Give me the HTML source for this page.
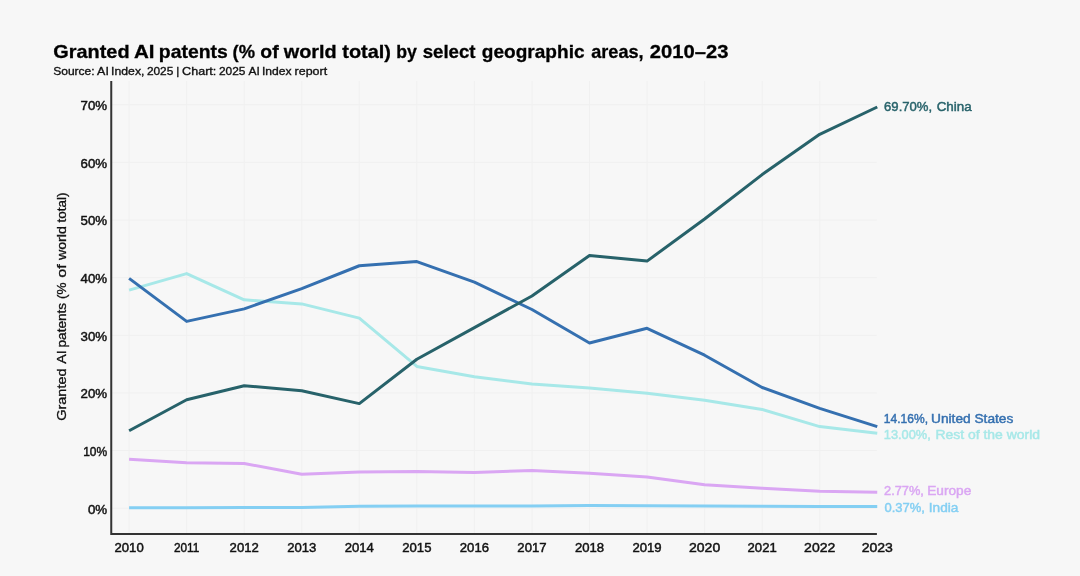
<!DOCTYPE html>
<html lang="en"><head><meta charset="utf-8"><title>Granted AI patents</title>
<style>
html,body{margin:0;padding:0;background:#f7f7f7;}
body{width:1080px;height:576px;overflow:hidden;font-family:"Liberation Sans",sans-serif;}
svg{display:block;position:absolute;left:0;top:0}
text{font-family:"Liberation Sans",sans-serif;}
.tick{font-size:12.8px;fill:#111;stroke:#111;stroke-width:0.45px;}
.lab{font-size:12.7px;stroke-width:0.45px;}
</style></head><body>
<svg width="1080" height="576" viewBox="0 0 1080 576">
<rect x="0" y="0" width="1080" height="576" fill="#f7f7f7"/>

<g stroke="#f0f0f0" stroke-width="1" fill="none">
<line x1="129.10" y1="81" x2="129.10" y2="533"/>
<line x1="186.65" y1="81" x2="186.65" y2="533"/>
<line x1="244.20" y1="81" x2="244.20" y2="533"/>
<line x1="301.75" y1="81" x2="301.75" y2="533"/>
<line x1="359.30" y1="81" x2="359.30" y2="533"/>
<line x1="416.85" y1="81" x2="416.85" y2="533"/>
<line x1="474.40" y1="81" x2="474.40" y2="533"/>
<line x1="531.95" y1="81" x2="531.95" y2="533"/>
<line x1="589.50" y1="81" x2="589.50" y2="533"/>
<line x1="647.05" y1="81" x2="647.05" y2="533"/>
<line x1="704.60" y1="81" x2="704.60" y2="533"/>
<line x1="762.15" y1="81" x2="762.15" y2="533"/>
<line x1="819.70" y1="81" x2="819.70" y2="533"/>
<line x1="111" y1="508.20" x2="876.8" y2="508.20"/>
<line x1="111" y1="450.56" x2="876.8" y2="450.56"/>
<line x1="111" y1="392.92" x2="876.8" y2="392.92"/>
<line x1="111" y1="335.28" x2="876.8" y2="335.28"/>
<line x1="111" y1="277.64" x2="876.8" y2="277.64"/>
<line x1="111" y1="220.00" x2="876.8" y2="220.00"/>
<line x1="111" y1="162.36" x2="876.8" y2="162.36"/>
<line x1="111" y1="104.72" x2="876.8" y2="104.72"/>
</g>
<polyline points="129.10,507.80 186.65,507.70 244.20,507.60 301.75,507.40 359.30,506.20 416.85,506.00 474.40,506.00 531.95,506.00 589.50,505.60 647.05,505.70 704.60,505.90 762.15,506.20 819.70,506.40 877.25,506.50" fill="none" stroke="#84cff3" stroke-width="3.0" stroke-linejoin="round" stroke-linecap="butt"/>
<polyline points="129.10,459.25 186.65,462.75 244.20,463.50 301.75,474.25 359.30,472.00 416.85,471.50 474.40,472.50 531.95,470.50 589.50,473.30 647.05,477.10 704.60,484.80 762.15,488.20 819.70,491.20 877.25,492.20" fill="none" stroke="#daa6f3" stroke-width="3.0" stroke-linejoin="round" stroke-linecap="butt"/>
<polyline points="129.10,290.10 186.65,273.60 244.20,299.80 301.75,303.90 359.30,318.10 416.85,366.40 474.40,376.80 531.95,383.90 589.50,388.00 647.05,393.30 704.60,400.30 762.15,409.40 819.70,426.60 877.25,433.30" fill="none" stroke="#a7e8e8" stroke-width="3.0" stroke-linejoin="round" stroke-linecap="butt"/>
<polyline points="129.10,278.40 186.65,321.40 244.20,308.90 301.75,288.70 359.30,265.75 416.85,261.60 474.40,282.20 531.95,309.50 589.50,343.00 647.05,328.30 704.60,355.20 762.15,387.50 819.70,408.40 877.25,426.60" fill="none" stroke="#3570b0" stroke-width="3.0" stroke-linejoin="round" stroke-linecap="butt"/>
<polyline points="129.10,430.80 186.65,399.80 244.20,385.70 301.75,390.70 359.30,403.60 416.85,359.30 474.40,327.60 531.95,296.00 589.50,255.50 647.05,261.10 704.60,219.00 762.15,174.60 819.70,134.30 877.25,107.00" fill="none" stroke="#27626a" stroke-width="3.0" stroke-linejoin="round" stroke-linecap="butt"/>
<path d="M111.25 82 V533.9 H875.9" fill="none" stroke="#333" stroke-width="2" stroke-linecap="square"/>
<text font-size="18.4" font-weight="bold" fill="#000" stroke="#000" stroke-width="0.3" y="57.5">
<tspan x="53.37" textLength="76.22" lengthAdjust="spacingAndGlyphs">Granted</tspan> <tspan x="134.02" textLength="20.57" lengthAdjust="spacingAndGlyphs">AI</tspan> <tspan x="158.87" textLength="68.95" lengthAdjust="spacingAndGlyphs">patents</tspan> <tspan x="232.56" textLength="22.39" lengthAdjust="spacingAndGlyphs">(%</tspan> <tspan x="260.38" textLength="18.28" lengthAdjust="spacingAndGlyphs">of</tspan> <tspan x="283.79" textLength="52.96" lengthAdjust="spacingAndGlyphs">world</tspan> <tspan x="342.25" textLength="48.69" lengthAdjust="spacingAndGlyphs">total)</tspan> <tspan x="396.15" textLength="20.65" lengthAdjust="spacingAndGlyphs">by</tspan> <tspan x="422.69" textLength="52.86" lengthAdjust="spacingAndGlyphs">select</tspan> <tspan x="481.88" textLength="102.65" lengthAdjust="spacingAndGlyphs">geographic</tspan> <tspan x="591.21" textLength="52.37" lengthAdjust="spacingAndGlyphs">areas,</tspan> <tspan x="649.82" textLength="78.56" lengthAdjust="spacingAndGlyphs">2010–23</tspan></text>
<text font-size="11.8" fill="#111" stroke="#111" stroke-width="0.35" y="75.1">
<tspan x="53.21" textLength="41.45" lengthAdjust="spacingAndGlyphs">Source:</tspan> <tspan x="97.12" textLength="11.76" lengthAdjust="spacingAndGlyphs">AI</tspan> <tspan x="111.11" textLength="33.34" lengthAdjust="spacingAndGlyphs">Index,</tspan> <tspan x="146.92" textLength="26.44" lengthAdjust="spacingAndGlyphs">2025</tspan> <tspan x="176.19" textLength="3.03" lengthAdjust="spacingAndGlyphs">|</tspan> <tspan x="182.14" textLength="34.17" lengthAdjust="spacingAndGlyphs">Chart:</tspan> <tspan x="218.92" textLength="26.47" lengthAdjust="spacingAndGlyphs">2025</tspan> <tspan x="248.60" textLength="11.30" lengthAdjust="spacingAndGlyphs">AI</tspan> <tspan x="261.94" textLength="29.58" lengthAdjust="spacingAndGlyphs">Index</tspan> <tspan x="294.63" textLength="32.51" lengthAdjust="spacingAndGlyphs">report</tspan></text>
<text font-size="12.8" fill="#111" stroke="#111" stroke-width="0.32" transform="translate(66.1,420.86) rotate(-90)">
<tspan x="0.00" textLength="52.46" lengthAdjust="spacingAndGlyphs">Granted</tspan> <tspan x="57.22" textLength="13.37" lengthAdjust="spacingAndGlyphs">AI</tspan> <tspan x="73.41" textLength="44.61" lengthAdjust="spacingAndGlyphs">patents</tspan> <tspan x="121.87" textLength="16.49" lengthAdjust="spacingAndGlyphs">(%</tspan> <tspan x="143.01" textLength="13.58" lengthAdjust="spacingAndGlyphs">of</tspan> <tspan x="160.82" textLength="33.97" lengthAdjust="spacingAndGlyphs">world</tspan> <tspan x="198.36" textLength="29.90" lengthAdjust="spacingAndGlyphs">total)</tspan></text>
<text class="tick" x="107.2" y="513.50" text-anchor="end" textLength="19.3" lengthAdjust="spacingAndGlyphs">0%</text>
<text class="tick" x="107.2" y="455.86" text-anchor="end" textLength="24" lengthAdjust="spacingAndGlyphs">10%</text>
<text class="tick" x="107.2" y="398.22" text-anchor="end" textLength="26.6" lengthAdjust="spacingAndGlyphs">20%</text>
<text class="tick" x="107.2" y="340.58" text-anchor="end" textLength="26.6" lengthAdjust="spacingAndGlyphs">30%</text>
<text class="tick" x="107.2" y="282.94" text-anchor="end" textLength="26.6" lengthAdjust="spacingAndGlyphs">40%</text>
<text class="tick" x="107.2" y="225.30" text-anchor="end" textLength="26.6" lengthAdjust="spacingAndGlyphs">50%</text>
<text class="tick" x="107.2" y="167.66" text-anchor="end" textLength="26.6" lengthAdjust="spacingAndGlyphs">60%</text>
<text class="tick" x="107.2" y="110.02" text-anchor="end" textLength="26.6" lengthAdjust="spacingAndGlyphs">70%</text>
<text class="tick" x="129.10" y="552" text-anchor="middle" textLength="29.2" lengthAdjust="spacingAndGlyphs">2010</text>
<text class="tick" x="186.65" y="552" text-anchor="middle" textLength="25.4" lengthAdjust="spacingAndGlyphs">2011</text>
<text class="tick" x="244.20" y="552" text-anchor="middle" textLength="29.2" lengthAdjust="spacingAndGlyphs">2012</text>
<text class="tick" x="301.75" y="552" text-anchor="middle" textLength="29.2" lengthAdjust="spacingAndGlyphs">2013</text>
<text class="tick" x="359.30" y="552" text-anchor="middle" textLength="29.2" lengthAdjust="spacingAndGlyphs">2014</text>
<text class="tick" x="416.85" y="552" text-anchor="middle" textLength="29.2" lengthAdjust="spacingAndGlyphs">2015</text>
<text class="tick" x="474.40" y="552" text-anchor="middle" textLength="29.2" lengthAdjust="spacingAndGlyphs">2016</text>
<text class="tick" x="531.95" y="552" text-anchor="middle" textLength="29.2" lengthAdjust="spacingAndGlyphs">2017</text>
<text class="tick" x="589.50" y="552" text-anchor="middle" textLength="29.2" lengthAdjust="spacingAndGlyphs">2018</text>
<text class="tick" x="647.05" y="552" text-anchor="middle" textLength="29.2" lengthAdjust="spacingAndGlyphs">2019</text>
<text class="tick" x="704.60" y="552" text-anchor="middle" textLength="31.2" lengthAdjust="spacingAndGlyphs">2020</text>
<text class="tick" x="762.15" y="552" text-anchor="middle" textLength="29.2" lengthAdjust="spacingAndGlyphs">2021</text>
<text class="tick" x="819.70" y="552" text-anchor="middle" textLength="31.2" lengthAdjust="spacingAndGlyphs">2022</text>
<text class="tick" x="877.25" y="552" text-anchor="middle" textLength="31.2" lengthAdjust="spacingAndGlyphs">2023</text>
<text class="lab" y="111.4" fill="#27626a" stroke="#27626a"><tspan x="884.10" textLength="48.00" lengthAdjust="spacingAndGlyphs">69.70%,</tspan> <tspan x="936.70" textLength="35.00" lengthAdjust="spacingAndGlyphs">China</tspan></text>
<text class="lab" y="423.3" fill="#3570b0" stroke="#3570b0"><tspan x="883.80" textLength="44.20" lengthAdjust="spacingAndGlyphs">14.16%,</tspan> <tspan x="931.00" textLength="82.30" lengthAdjust="spacingAndGlyphs">United States</tspan></text>
<text class="lab" y="438.8" fill="#a7e8e8" stroke="#a7e8e8"><tspan x="883.80" textLength="47.00" lengthAdjust="spacingAndGlyphs">13.00%,</tspan> <tspan x="935.50" textLength="104.50" lengthAdjust="spacingAndGlyphs">Rest of the world</tspan></text>
<text class="lab" y="495.4" fill="#daa6f3" stroke="#daa6f3"><tspan x="884.00" textLength="39.90" lengthAdjust="spacingAndGlyphs">2.77%,</tspan> <tspan x="927.20" textLength="44.10" lengthAdjust="spacingAndGlyphs">Europe</tspan></text>
<text class="lab" y="511.9" fill="#84cff3" stroke="#84cff3"><tspan x="884.50" textLength="40.40" lengthAdjust="spacingAndGlyphs">0.37%,</tspan> <tspan x="928.80" textLength="29.60" lengthAdjust="spacingAndGlyphs">India</tspan></text>
</svg></body></html>
